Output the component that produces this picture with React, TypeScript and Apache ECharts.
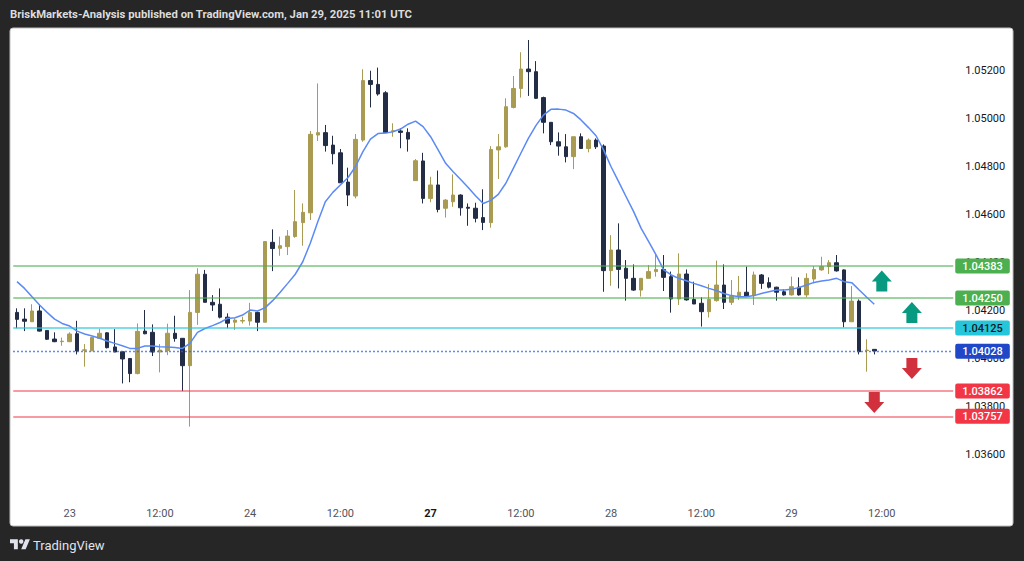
import React, { useEffect, useRef } from "react";
import * as echarts from "echarts";

// ---- Data (EURUSD-like, 1h candles) ----
const opens = [
  1.0419, 1.04162, 1.04151, 1.04196, 1.04115, 1.04079, 1.04068, 1.04068, 1.04101, 1.04032,
  1.0403, 1.04082, 1.04105, 1.04046, 1.04026, 1.03998, 1.03935, 1.04112, 1.04107, 1.04025,
  1.04031, 1.04103, 1.04082, 1.03968, 1.0419, 1.04349, 1.04232, 1.04224, 1.0417, 1.04149,
  1.04154, 1.04154, 1.0419, 1.04149, 1.04482, 1.04457, 1.04464, 1.04506, 1.04564, 1.04605,
  1.04929, 1.04939, 1.04887, 1.04855, 1.04733, 1.04675, 1.04908, 1.05156, 1.0514, 1.05105,
  1.04945, 1.04946, 1.0494, 1.04739, 1.04821, 1.04665, 1.04721, 1.04624, 1.04651, 1.04679,
  1.04628, 1.04624, 1.04585, 1.04564, 1.04867, 1.0488, 1.05044, 1.05123, 1.05204, 1.05193,
  1.05085, 1.04982, 1.04901, 1.0488, 1.04839, 1.04922, 1.04873, 1.04908, 1.04883, 1.04364,
  1.0445, 1.04374, 1.04332, 1.04283, 1.04332, 1.0436, 1.04369, 1.04339, 1.04246, 1.0435,
  1.04244, 1.04228, 1.04193, 1.04239, 1.04304, 1.04232, 1.04256, 1.04274, 1.0426, 1.04346,
  1.04314, 1.04295, 1.04276, 1.04263, 1.04295, 1.04263, 1.04329, 1.04367, 1.04381, 1.04397,
  1.04367, 1.04151, 1.04237, 1.04031, 1.04036,
];
const closes = [
  1.04161, 1.04153, 1.04196, 1.04112, 1.04078, 1.04068, 1.0407, 1.041, 1.04029, 1.04034,
  1.04086, 1.04103, 1.04043, 1.04025, 1.03996, 1.03935, 1.04111, 1.04101, 1.04025, 1.04033,
  1.04103, 1.04081, 1.03968, 1.0419, 1.04349, 1.04232, 1.04221, 1.0417, 1.04145, 1.04158,
  1.04156, 1.0419, 1.04149, 1.04485, 1.04456, 1.04468, 1.04508, 1.04568, 1.04607, 1.04932,
  1.04939, 1.04885, 1.04851, 1.0473, 1.04679, 1.04911, 1.05156, 1.0514, 1.051, 1.04939,
  1.04947, 1.0494, 1.04912, 1.04822, 1.04665, 1.04721, 1.04619, 1.04658, 1.04679, 1.04626,
  1.04624, 1.04582, 1.04565, 1.04869, 1.0488, 1.05047, 1.05123, 1.05204, 1.05193, 1.05082,
  1.04982, 1.04901, 1.04883, 1.04839, 1.04922, 1.04873, 1.04908, 1.0488, 1.04364, 1.0445,
  1.04369, 1.04332, 1.04283, 1.04332, 1.0436, 1.04369, 1.04336, 1.04246, 1.0435, 1.04242,
  1.04225, 1.04193, 1.04244, 1.04304, 1.04232, 1.04258, 1.04274, 1.04258, 1.04346, 1.04311,
  1.04295, 1.04274, 1.04263, 1.04297, 1.04263, 1.04332, 1.04369, 1.04381, 1.04397, 1.04363,
  1.04151, 1.04237, 1.04026, 1.04033, 1.04029,
];
const lows = [
  1.04124, 1.04112, 1.04151, 1.0411, 1.04075, 1.04066, 1.04051, 1.04066, 1.04015, 1.03964,
  1.04029, 1.04082, 1.0404, 1.04025, 1.03894, 1.03899, 1.03932, 1.04099, 1.04008, 1.0394,
  1.04012, 1.04068, 1.03862, 1.03714, 1.04138, 1.04232, 1.04196, 1.04165, 1.04124, 1.04117,
  1.04144, 1.04135, 1.04112, 1.04149, 1.04362, 1.04426, 1.04429, 1.04501, 1.04468, 1.04575,
  1.04904, 1.0486, 1.04807, 1.0473, 1.04633, 1.04665, 1.04901, 1.05044, 1.05093, 1.04939,
  1.04922, 1.04874, 1.0486, 1.04739, 1.04644, 1.04649, 1.04607, 1.04585, 1.0463, 1.04593,
  1.04551, 1.04565, 1.04533, 1.04543, 1.04746, 1.04876, 1.0504, 1.05085, 1.05092, 1.05079,
  1.04936, 1.04887, 1.04843, 1.04815, 1.04787, 1.04871, 1.04857, 1.04871, 1.04276, 1.04301,
  1.0429, 1.04239, 1.0428, 1.04256, 1.04332, 1.04339, 1.04279, 1.04189, 1.04221, 1.04239,
  1.04225, 1.04131, 1.04169, 1.04235, 1.04204, 1.04221, 1.04242, 1.04256, 1.04221, 1.04288,
  1.0429, 1.04239, 1.0426, 1.0426, 1.0426, 1.04253, 1.04311, 1.04364, 1.0435, 1.0436,
  1.04128, 1.04151, 1.04015, 1.03943, 1.04015,
];
const highs = [
  1.04207, 1.04207, 1.04224, 1.04224, 1.04115, 1.04107, 1.04085, 1.04107, 1.04155, 1.04058,
  1.04088, 1.04121, 1.04108, 1.0412, 1.04029, 1.03998, 1.04144, 1.042, 1.0414, 1.04058,
  1.04143, 1.04176, 1.04082, 1.04283, 1.04374, 1.04367, 1.04262, 1.0429, 1.04186, 1.04165,
  1.04172, 1.0423, 1.04193, 1.04485, 1.04536, 1.04506, 1.04533, 1.047, 1.04644, 1.04946,
  1.05144, 1.04971, 1.04926, 1.04871, 1.04793, 1.04933, 1.05203, 1.05197, 1.0521, 1.05112,
  1.04978, 1.04957, 1.04957, 1.04829, 1.04855, 1.04755, 1.04781, 1.04662, 1.04765, 1.04682,
  1.04644, 1.04647, 1.04703, 1.04883, 1.04933, 1.05082, 1.05175, 1.05274, 1.05325, 1.05237,
  1.05089, 1.04982, 1.0494, 1.04933, 1.04922, 1.04936, 1.04915, 1.04915, 1.0489, 1.04512,
  1.04561, 1.04408, 1.0439, 1.04332, 1.04387, 1.04436, 1.04429, 1.0436, 1.04436, 1.04369,
  1.04318, 1.04253, 1.04308, 1.04406, 1.0439, 1.04325, 1.04342, 1.04381, 1.0436, 1.0435,
  1.04336, 1.04297, 1.04286, 1.04339, 1.04336, 1.04353, 1.04383, 1.04422, 1.04408, 1.04429,
  1.04369, 1.043, 1.04244, 1.04078, 1.04036,
];
const maValues = [
  1.04318, 1.0429, 1.04255, 1.04221, 1.0419, 1.04162, 1.04144, 1.04133, 1.04112, 1.041,
  1.04092, 1.04082, 1.04071, 1.04061, 1.04051, 1.0404, 1.0404, 1.0405, 1.0405, 1.04047,
  1.04046, 1.04044, 1.0404, 1.04061, 1.04107, 1.04123, 1.04135, 1.04148, 1.04165, 1.04168,
  1.04179, 1.042, 1.04196, 1.0421, 1.04239, 1.04274, 1.04311, 1.04349, 1.04401, 1.04478,
  1.04568, 1.04651, 1.0469, 1.04721, 1.04751, 1.04797, 1.0486, 1.04912, 1.04935, 1.04937,
  1.04943, 1.04954, 1.04974, 1.04987, 1.04964, 1.04922, 1.04867, 1.04811, 1.04776, 1.04744,
  1.0471, 1.04675, 1.04644, 1.04657, 1.04682, 1.04728, 1.0479, 1.04853, 1.04915, 1.04968,
  1.05012, 1.05036, 1.05037, 1.05033, 1.05019, 1.04992, 1.0496, 1.04926, 1.04867, 1.04797,
  1.04735, 1.04672, 1.0461, 1.0454, 1.04485, 1.04429, 1.04367, 1.04346, 1.04332, 1.04322,
  1.04311, 1.04301, 1.0429, 1.04281, 1.04269, 1.0426, 1.04255, 1.04255, 1.0426, 1.04269,
  1.04276, 1.04283, 1.04283, 1.04286, 1.04294, 1.04304, 1.04315, 1.04321, 1.04325, 1.04332,
  1.04318, 1.04314, 1.04283, 1.04253, 1.04224,
];

const TOTAL_SLOTS = 125; // candles + empty space on the right
const xTickIndex = [7, 19, 31, 43, 55, 67, 79, 91, 103, 115];
const xTickText = ["23", "12:00", "24", "12:00", "27", "12:00", "28", "12:00", "29", "12:00"];
const xTickBold = [false, false, false, false, true, false, false, false, false, false];

const levelPrices = [1.04383, 1.0425, 1.04125, 1.04028, 1.03862, 1.03757];

const arrowUpX = [115, 119];
const arrowUpY = [1.04321, 1.0419];
const arrowDownX = [119, 114];
const arrowDownY = [1.03956, 1.03815];

const Y_MIN = 1.034;
const Y_MAX = 1.0536667;
const Y_STEP = 0.002;

const TITLE = "BriskMarkets-Analysis published on TradingView.com, Jan 29, 2025 11:01 UTC";

// ---- Styles ----
const levelStyles = [
  { line: "rgba(76,175,80,0.55)", box: "#4caf50", text: "#ffffff", type: "solid", width: 2 },
  { line: "rgba(76,175,80,0.55)", box: "#4caf50", text: "#ffffff", type: "solid", width: 2 },
  { line: "rgba(38,198,218,0.6)", box: "#26c6da", text: "#131722", type: "solid", width: 2 },
  { line: "#2962ff", box: "#1f47c8", text: "#ffffff", type: [1.5, 2.5], width: 1.3 },
  { line: "rgba(242,54,69,0.5)", box: "#f23645", text: "#ffffff", type: "solid", width: 2 },
  { line: "rgba(242,54,69,0.5)", box: "#f23645", text: "#ffffff", type: "solid", width: 2 },
];

const FONT = "Roboto, 'Noto Sans', sans-serif";
const UP_COLOR = "#a99b52";
const DOWN_COLOR = "#232d46";
const ARROW_PATH = "path://M10,0L20,11L15.5,11L15.5,21L4.5,21L4.5,11L0,11Z";
const TV_LOGO = "M14 22H7V11H0V4h14v18zM28 22h-8l7.5-18h8L28 22z";

let registered = false;

export default function App() {
  const ref = useRef<HTMLDivElement>(null);

  useEffect(() => {
    if (!ref.current) return;
    if (!registered) {
      echarts.graphic.registerShape("tvlogo", echarts.graphic.extendPath(TV_LOGO, {}));
      registered = true;
    }
    const chart = echarts.init(ref.current, undefined, { renderer: "svg" });

    const categories = Array.from({ length: TOTAL_SLOTS }, (_, i) => "s" + i);
    const candleData = opens.map((o, i) => [o, closes[i], lows[i], highs[i]]);

    const option: any = {
      animation: false,
      backgroundColor: "#262626",
      textStyle: { fontFamily: FONT },
      grid: { left: 13.24, top: 30, width: 940, height: 472, containLabel: false },
      xAxis: {
        type: "category",
        data: categories,
        boundaryGap: true,
        axisLine: { show: false },
        axisTick: { show: false },
        splitLine: { show: false },
        axisLabel: {
          interval: (i: number) => xTickIndex.indexOf(i) >= 0,
          formatter: (_v: string, i: number) => {
            const k = xTickIndex.indexOf(i);
            if (k < 0) return "";
            return xTickBold[k] ? "{b|" + xTickText[k] + "}" : xTickText[k];
          },
          color: "#50535e",
          fontSize: 11,
          fontFamily: FONT,
          margin: 6,
          rich: { b: { fontWeight: "bold", color: "#131722", fontSize: 11, fontFamily: FONT } },
        },
      },
      yAxis: {
        type: "value",
        position: "right",
        min: Y_MIN,
        max: Y_MAX,
        interval: Y_STEP,
        axisLine: { show: false },
        axisTick: { show: false },
        splitLine: { show: false },
        axisLabel: {
          formatter: (v: number) => v.toFixed(5),
          color: "#131722",
          fontSize: 11,
          fontFamily: FONT,
          margin: 12,
          showMinLabel: false,
          showMaxLabel: false,
        },
      },
      series: [
        {
          type: "candlestick",
          data: candleData,
          barWidth: 4,
          itemStyle: {
            color: UP_COLOR,
            color0: DOWN_COLOR,
            borderColor: UP_COLOR,
            borderColor0: DOWN_COLOR,
            borderWidth: 1,
          },
        },
        {
          type: "line",
          data: maValues,
          showSymbol: false,
          symbol: "none",
          lineStyle: { color: "#5b8af5", width: 1.5 },
          silent: true,
          markLine: {
            silent: true,
            precision: 5,
            symbol: ["none", "none"],
            animation: false,
            data: levelPrices.map((p, i) => ({
              yAxis: p,
              lineStyle: {
                color: levelStyles[i].line,
                width: levelStyles[i].width,
                type: levelStyles[i].type,
              },
              label: {
                show: true,
                position: "end",
                distance: 2,
                formatter: () => p.toFixed(5),
                color: levelStyles[i].text,
                backgroundColor: levelStyles[i].box,
                padding: [2, 7, 1, 7],
                borderRadius: 2,
                fontSize: 11,
                fontFamily: FONT,
                fontWeight: 500,
                lineHeight: 12,
              },
            })),
          },
        },
        {
          type: "scatter",
          data: arrowUpX.map((x, i) => [x, arrowUpY[i]]),
          symbol: ARROW_PATH,
          symbolSize: [20, 21],
          itemStyle: { color: "#089981", opacity: 1 },
          silent: true,
          z: 5,
        },
        {
          type: "scatter",
          data: arrowDownX.map((x, i) => [x, arrowDownY[i]]),
          symbol: ARROW_PATH,
          symbolSize: [20, 21],
          symbolRotate: 180,
          itemStyle: { color: "#d1303d", opacity: 1 },
          silent: true,
          z: 5,
        },
      ],
      graphic: [
        {
          type: "rect",
          z: -10,
          shape: { x: 10, y: 28, width: 1003, height: 498, r: 3 },
          style: { fill: "#ffffff", stroke: "#bfbfbf", lineWidth: 1 },
          silent: true,
        },
        {
          type: "text",
          x: 10,
          y: 14,
          style: {
            text: TITLE,
            fill: "#dcdcdc",
            font: "bold 11.3px " + FONT,
            textVerticalAlign: "middle",
          },
          silent: true,
        },
        {
          type: "tvlogo",
          x: 10,
          y: 537,
          scaleX: 0.56,
          scaleY: 0.56,
          style: { fill: "#e0e3eb" },
          silent: true,
        },
        {
          type: "circle",
          shape: { cx: 10 + 20 * 0.56, cy: 537 + 8 * 0.56, r: 4 * 0.56 },
          style: { fill: "#e0e3eb" },
          silent: true,
        },
        {
          type: "text",
          x: 33,
          y: 545,
          style: {
            text: "TradingView",
            fill: "#e0e3eb",
            font: "13px " + FONT,
            textVerticalAlign: "middle",
          },
          silent: true,
        },
      ],
    };

    chart.setOption(option);
    return () => chart.dispose();
  }, []);

  return (
    <div
      ref={ref}
      style={{ position: "fixed", left: 0, top: 0, width: 1024, height: 561 }}
    />
  );
}
